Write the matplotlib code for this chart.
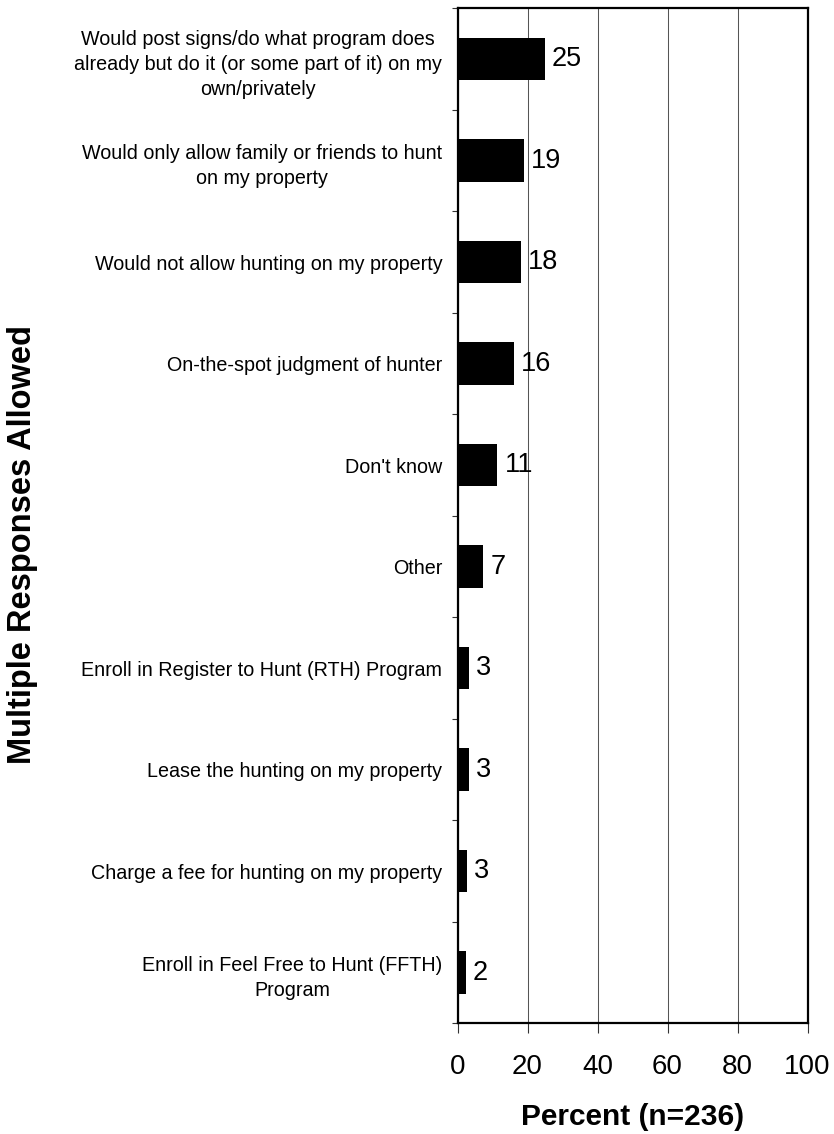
import numpy as np
import matplotlib
matplotlib.use("Agg")
import matplotlib.pyplot as plt
from matplotlib.ticker import FixedLocator

plt.rcParams['font.family'] = ['Liberation Sans', 'DejaVu Sans']

# survey responses, top to bottom
categories = [
    "Would post signs/do what program does\nalready but do it (or some part of it) on my\nown/privately",
    "Would only allow family or friends to hunt\non my property",
    "Would not allow hunting on my property",
    "On-the-spot judgment of hunter",
    "Don't know",
    "Other",
    "Enroll in Register to Hunt (RTH) Program",
    "Lease the hunting on my property",
    "Charge a fee for hunting on my property",
    "Enroll in Feel Free to Hunt (FFTH)\nProgram",
]
percent = [25, 19, 18, 16, 11.4, 7.4, 3.4, 3.4, 2.7, 2.3]
value_labels = ["25", "19", "18", "16", "11", "7", "3", "3", "3", "2"]
x_ticks = [0, 20, 40, 60, 80, 100]

fig = plt.figure(figsize=(8.34, 11.34), dpi=100)
ax = fig.add_axes([0.5486, 0.0976, 0.4197, 0.8951])

ypos = np.arange(len(categories))
bars = ax.barh(ypos, percent, height=0.42, color='black', zorder=3)
ax.bar_label(bars, labels=value_labels, padding=5, fontsize=19.5, zorder=4)

ax.set_xlim(0, 100)
ax.set_ylim(len(categories) - 0.5, -0.5)
ax.set_xticks(x_ticks)
ax.set_yticks(ypos)
ax.set_yticklabels(categories, fontsize=14.2, ha='right', multialignment='center',
                   linespacing=1.4)
ax.yaxis.set_minor_locator(FixedLocator(np.arange(-0.5, len(categories), 1.0)))

ax.tick_params(axis='y', which='major', length=0, pad=11)
ax.tick_params(axis='y', which='minor', direction='out', length=4.3, width=0.8, color='#333333')
ax.tick_params(axis='x', which='major', direction='out', length=7, width=0.8,
               color='#333333', labelsize=20, pad=15)

ax.grid(axis='x', color='#555555', linewidth=0.75, zorder=0)
for side in ['left', 'right', 'top', 'bottom']:
    ax.spines[side].set_linewidth(1.6)
    ax.spines[side].set_color('black')

ax.set_xlabel("Percent (n=236)", fontsize=21.5, fontweight='bold', labelpad=17)
fig.text(23 / 834, 1 - 544.5 / 1134, "Multiple Responses Allowed", rotation=90,
         ha='center', va='center', fontsize=23.5, fontweight='bold')

fig.savefig("out.png", dpi=100)
